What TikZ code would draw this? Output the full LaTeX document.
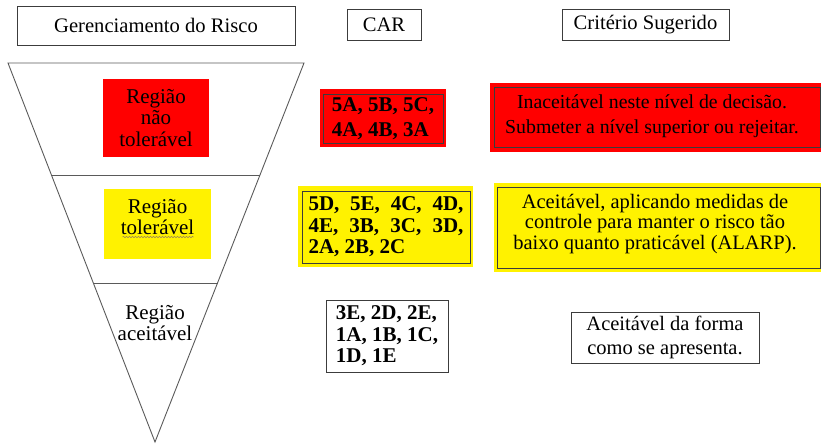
\documentclass[tikz,border=0pt]{standalone}
\usepackage{fontspec}
\setmainfont{Liberation Serif}
\usetikzlibrary{decorations.pathmorphing,backgrounds,calc}
\definecolor{bordc}{RGB}{60,60,60}
\definecolor{tric}{RGB}{90,90,90}
\definecolor{wavyc}{RGB}{150,130,90}
\tikzset{
  hdr/.style={draw=bordc, line width=0.9pt, inner sep=0pt, font=\fontsize{20.6}{22}\selectfont},
  regbox/.style={inner sep=0pt, align=center, font=\fontsize{21}{21.5}\selectfont},
  carbox/.style={draw=bordc, line width=0.9pt, inner sep=0pt, align=left, font=\bfseries\fontsize{21}{21.5}\selectfont},
  critbox/.style={draw=bordc, line width=0.9pt, inner sep=0pt, align=center, font=\fontsize{20.5}{24}\selectfont},
  triline/.style={draw=tric, line width=0.9pt}
}
\begin{document}
\begin{tikzpicture}[x=1pt,y=-1pt]
\useasboundingbox (0,0) rectangle (821,445);
\clip (0,0) rectangle (821,445);
% headers
\node[hdr, minimum width=278, minimum height=39] (h1) at (156,25.5) {Gerenciamento do Risco};
\node[hdr, minimum width=74, minimum height=31] (h2) at (384,24.5) {CAR};
\node[hdr, minimum width=167, minimum height=31] (h3) at (645.5,24.5) {Critério Sugerido};
% triangle
\coordinate (ta) at (8,63);
\coordinate (tb) at (304,63);
\coordinate (tc) at (155,442);
\draw[triline, line join=miter] (ta) -- (tb) -- (tc) -- cycle;
\coordinate (l1a) at ($(ta)!0.2955!(tc)$);
\coordinate (l1b) at ($(tb)!0.2955!(tc)$);
\coordinate (l2a) at ($(ta)!0.5805!(tc)$);
\coordinate (l2b) at ($(tb)!0.5805!(tc)$);
\draw[triline] (l1a) -- (l1b);
\draw[triline] (l2a) -- (l2b);
% region labels
\node[regbox, fill=red, minimum width=106, minimum height=78] (r1) at (156,118) {Região\\não\\tolerável};
\node[regbox, fill=yellow, minimum width=107, minimum height=70] (r2) at (157.5,224) {};
\node[regbox] (r2t) at (157.5,217) {Região\\tolerável};
\node[regbox] (r3) at (155,323) {Região\\aceitável};
\draw[wavyc, line width=0.5pt, decorate, decoration={snake, amplitude=0.7pt, segment length=3pt}] ([shift={(-35pt,-20pt)}]r2t.center) -- ([shift={(36pt,-20pt)}]r2t.center);
% CAR column
\node[carbox, fill=red, minimum width=120, minimum height=49, font=\bfseries\fontsize{21}{25}\selectfont] (c1) at (383,118.5) {5A, 5B, 5C,\\4A, 4B, 3A};
\node[carbox, fill=yellow, minimum width=168, minimum height=72] (c2) at (386,227) {%
  \makebox[155pt][s]{5D, 5E, 4C, 4D,}\\\makebox[155pt][s]{4E, 3B, 3C, 3D,}\\2A, 2B, 2C};
\node[carbox, minimum width=122, minimum height=72] (c3) at (387,336) {3E, 2D, 2E,\\1A, 1B, 1C,\\1D, 1E};
% criterio column
\node[critbox, fill=red, minimum width=326, minimum height=60] (s1) at (657,117) {};
\node[critbox, draw=none, font=\fontsize{19.8}{25}\selectfont] (s1t) at (652,116) {Inaceitável neste nível de decisão.\\Submeter a nível superior ou rejeitar.};
\node[critbox, fill=yellow, minimum width=323, minimum height=81] (s2) at (658.5,227.5) {};
\node[critbox, draw=none, font=\fontsize{20.5}{20.5}\selectfont] (s2t) at (655,224) {Aceitável, aplicando medidas de\\controle para manter o risco tão\\baixo quanto praticável (ALARP).};
\node[critbox, minimum width=188, minimum height=51] (s3) at (665,337.5) {Aceitável da forma\\como se apresenta.};
% outer colour frames
\begin{scope}[on background layer]
\fill[red] ([shift={(-3pt,5pt)}]c1.north west) rectangle ([shift={(3pt,-4pt)}]c1.south east);
\fill[yellow] ([shift={(-4pt,5pt)}]c2.north west) rectangle ([shift={(3pt,-4pt)}]c2.south east);
\fill[red] ([shift={(-4pt,4pt)}]s1.north west) rectangle ([shift={(4pt,-5pt)}]s1.south east);
\fill[yellow] ([shift={(-3pt,4pt)}]s2.north west) rectangle ([shift={(4pt,-4pt)}]s2.south east);
\end{scope}
\end{tikzpicture}
\end{document}
